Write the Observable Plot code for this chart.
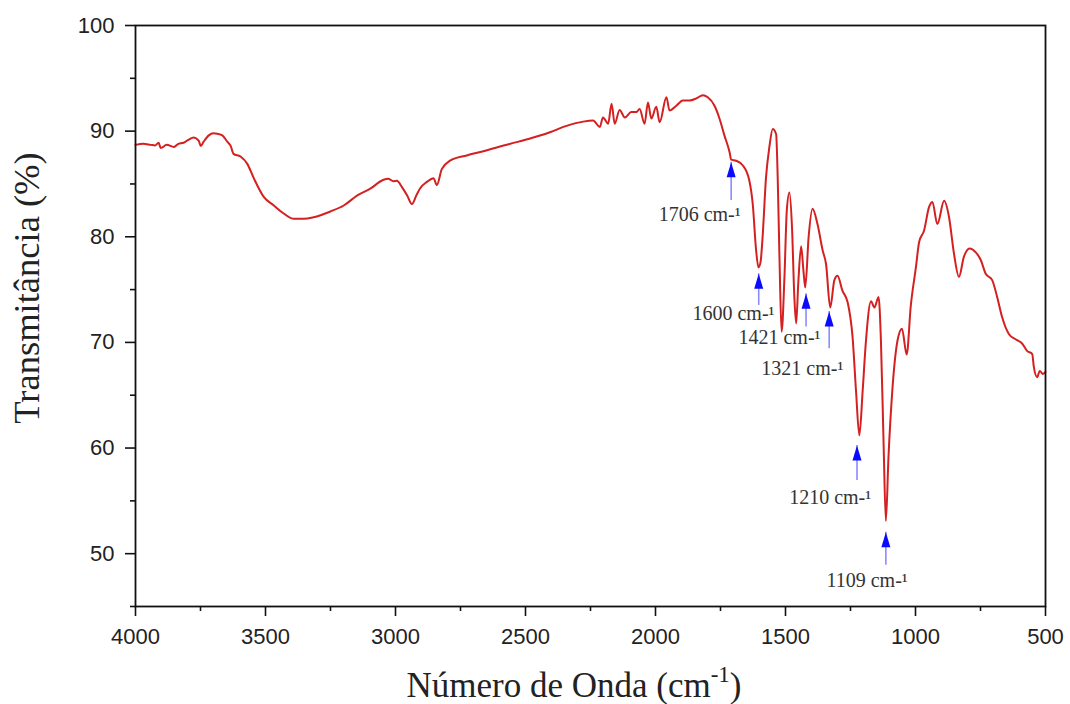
<!DOCTYPE html>
<html><head><meta charset="utf-8">
<script src="https://cdn.jsdelivr.net/npm/d3@7"></script>
<script src="https://cdn.jsdelivr.net/npm/@observablehq/plot@0.6"></script>
<style>body{margin:0;background:#fff}</style>
</head><body><div id="chart"></div>
<script>
// Spectrum (wavenumber cm-1, transmittance %)
const wavenumber = [4000,3970,3941,3925,3911,3903,3880,3852,3835,3815,3795,3776,3757,3749,3738,3718,3700,3685,3666,3647,3634,3623,3596,3570,3546,3506,3468,3430,3391,3353,3315,3250,3199,3148,3097,3046,3028,3008,2995,2975,2955,2937,2920,2905,2879,2854,2841,2822,2790,2726,2662,2598,2534,2470,2406,2342,2278,2240,2214,2202,2182,2169,2157,2138,2118,2093,2073,2061,2042,2029,2016,1997,1984,1958,1946,1920,1895,1869,1843,1818,1799,1773,1754,1735,1715,1709,1690,1664,1639,1626,1613,1604,1596,1588,1575,1562,1549,1536,1530,1523,1515,1504,1495,1485,1475,1466,1459,1451,1440,1431,1424,1411,1396,1377,1357,1344,1328,1312,1300,1281,1261,1242,1229,1216,1203,1191,1171,1158,1142,1133,1123,1114,1104,1089,1069,1052,1034,1018,999,986,967,948,935,916,890,871,852,833,814,792,769,749,730,705,686,667,641,615,590,571,551,545,532,522,510,500];
const transmittance = [88.7,88.8,88.7,88.65,88.9,88.4,88.7,88.5,88.8,88.9,89.2,89.4,89.1,88.6,89.0,89.6,89.8,89.75,89.6,89.0,88.6,87.85,87.6,86.9,85.6,83.75,82.96,82.2,81.7,81.7,81.85,82.4,82.96,83.9,84.55,85.4,85.5,85.26,85.3,84.7,83.9,83.1,83.9,84.6,85.2,85.55,84.9,86.4,87.2,87.7,88.1,88.55,88.96,89.4,89.9,90.5,90.9,91.0,90.4,91.3,90.7,92.6,90.7,92.0,91.3,91.8,91.8,92.1,90.7,92.7,91.2,92.3,90.85,93.2,91.95,92.4,92.9,92.9,93.1,93.4,93.2,92.4,91.2,89.6,88.0,87.3,87.2,86.75,85.3,83.1,78.7,77.1,77.6,80.0,85.6,88.5,90.2,89.7,85.6,77.8,71.0,76.2,82.5,84.2,80.9,74.3,71.8,75.55,79.1,76.8,75.2,80.0,82.65,81.2,78.7,77.4,73.3,75.9,76.3,74.9,73.8,70.5,65.5,61.2,65.5,70.0,73.9,73.3,74.3,70.2,60.7,53.1,59.1,65.5,70.2,71.3,68.85,73.5,77.0,79.5,80.6,82.8,83.3,81.2,83.4,81.85,78.4,76.2,78.1,78.9,78.55,77.8,76.5,75.9,74.3,72.4,70.8,70.3,69.9,69.2,68.9,67.7,66.7,67.3,67.0,67.2];

// Peak annotations
const peakLabels = ["1706 cm-\u00B9","1600 cm-\u00B9","1421 cm-\u00B9","1321 cm-\u00B9","1210 cm-\u00B9","1109 cm-\u00B9"];
const arrowX = [1709,1603,1421,1332,1225,1114];
const arrowTip = [87.06,76.5,74.6,72.93,60.25,52.04];
const arrowBase = [83.44,73.5,71.45,69.4,56.93,48.9];
const labelX = [1830,1700,1523,1435,1328,1186];
const labelY = [81.54,72.08,69.87,66.87,54.73,46.83];

// Ticks
const xTicks = [4000,3500,3000,2500,2000,1500,1000,500];
const xMinorTicks = [3750,3250,2750,2250,1750,1250,750];
const yTicks = [50,60,70,80,90,100];
const yMinorTicks = [45,55,65,75,85,95];

const spectrum = wavenumber.map((w, i) => ({w, t: transmittance[i]}));
const notes = peakLabels.map((label, i) => ({label, ax: arrowX[i], tip: arrowTip[i], base: arrowBase[i], lx: labelX[i], ly: labelY[i]}));

const arrowHead = {draw(ctx) { ctx.moveTo(0, 0); ctx.lineTo(-4.5, 15); ctx.lineTo(4.5, 15); ctx.closePath(); }};

const chart = Plot.plot({
  width: 1070, height: 704,
  marginLeft: 135, marginRight: 25, marginTop: 25, marginBottom: 98,
  x: {domain: [4000, 500], label: null},
  y: {domain: [45, 100], label: null},
  style: {fontFamily: "'Liberation Sans', Arial, sans-serif", background: "#fff", color: "#222"},
  marks: [
    Plot.axisX({ticks: xMinorTicks, tickSize: 5, strokeWidth: 1.6, stroke: "#111", tickFormat: () => "", label: null}),
    Plot.axisX({ticks: xTicks, tickSize: 10, tickPadding: 12, strokeWidth: 1.6, stroke: "#111", fontSize: 22, fill: "#222", tickFormat: d => String(d), label: null}),
    Plot.axisY({ticks: yMinorTicks, tickSize: 5, strokeWidth: 1.6, stroke: "#111", tickFormat: () => "", label: null}),
    Plot.axisY({ticks: yTicks, tickSize: 10, tickPadding: 11, strokeWidth: 1.6, stroke: "#111", fontSize: 22, fill: "#222", tickFormat: d => String(d), label: null}),
    Plot.line(spectrum, {x: "w", y: "t", stroke: "#d42020", strokeWidth: 2, curve: "monotone-x"}),
    Plot.ruleX(notes, {x: "ax", y1: "base", y2: "tip", stroke: "#8c8cff", strokeWidth: 1.6}),
    Plot.dot(notes, {x: "ax", y: "tip", symbol: arrowHead, fill: "#0a0aff", r: 4}),
    Plot.text(notes, {x: "lx", y: "ly", text: "label", textAnchor: "middle", lineAnchor: "bottom", fontFamily: "'Liberation Serif', 'Times New Roman', serif", fontSize: 20, fill: "#333"}),
    Plot.frame({stroke: "#111", strokeWidth: 1.8})
  ]
});
document.getElementById("chart").appendChild(chart);

const svg = d3.select(chart);
const serif = "'Liberation Serif', 'Times New Roman', serif";
const xt = svg.append("text")
  .attr("x", 574).attr("y", 697)
  .attr("text-anchor", "middle")
  .attr("font-family", serif).attr("font-size", 35).attr("fill", "#222");
xt.append("tspan").text("Número de Onda (cm");
xt.append("tspan").attr("dy", -15).attr("font-size", 23).text("-1");
xt.append("tspan").attr("dy", 15).text(")");

svg.append("text")
  .attr("transform", "translate(39,288) rotate(-90)")
  .attr("text-anchor", "middle")
  .attr("font-family", serif).attr("font-size", 36.5).attr("fill", "#222")
  .text("Transmitância (%)");
</script>
</body></html>
